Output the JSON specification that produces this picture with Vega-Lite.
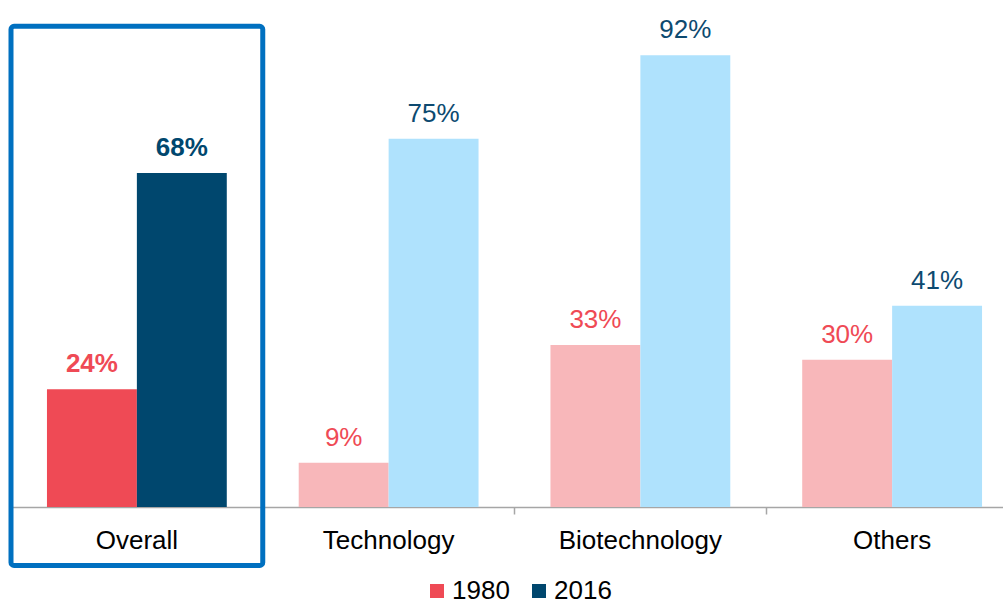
{
  "$schema": "https://vega.github.io/schema/vega-lite/v6.json",
  "autosize": "none",
  "width": 992,
  "height": 491,
  "padding": {"left": 11, "top": 16, "right": 0, "bottom": 96},
  "background": "white",
  "config": {
    "view": {"stroke": null},
    "font": "Liberation Sans"
  },
  "data": {
    "values": [
      {"category": "Overall", "year": "1980", "value": 0.24},
      {"category": "Overall", "year": "2016", "value": 0.68},
      {"category": "Technology", "year": "1980", "value": 0.09},
      {"category": "Technology", "year": "2016", "value": 0.75},
      {"category": "Biotechnology", "year": "1980", "value": 0.33},
      {"category": "Biotechnology", "year": "2016", "value": 0.92},
      {"category": "Others", "year": "1980", "value": 0.30},
      {"category": "Others", "year": "2016", "value": 0.41}
    ]
  },
  "layer": [
    {
      "encoding": {
        "x": {
          "field": "category",
          "type": "nominal",
          "sort": ["Overall", "Technology", "Biotechnology", "Others"],
          "scale": {"range": [0, 1007], "paddingInner": 0, "paddingOuter": 0},
          "axis": {
            "title": null,
            "labelAngle": 0,
            "labelFontSize": 26,
            "labelColor": "#000000",
            "labelPadding": 13,
            "bandPosition": 0,
            "tickSize": 7,
            "tickColor": "#A6A6A6",
            "tickWidth": 1.5,
            "domainColor": "#A6A6A6",
            "domainWidth": 1.5,
            "grid": false
          }
        },
        "xOffset": {
          "field": "year",
          "type": "nominal",
          "sort": ["1980", "2016"],
          "scale": {"paddingInner": 0, "paddingOuter": 0.4}
        },
        "y": {
          "field": "value",
          "type": "quantitative",
          "scale": {"domain": [0, 1]},
          "axis": null
        }
      },
      "layer": [
        {
          "transform": [{"filter": "datum.category === 'Overall'"}],
          "mark": {"type": "bar"},
          "encoding": {
            "color": {
              "field": "year",
              "type": "nominal",
              "scale": {"domain": ["1980", "2016"], "range": ["#EF4A55", "#00476E"]},
              "legend": {
                "title": null,
                "orient": "none",
                "direction": "horizontal",
                "legendX": 413,
                "legendY": 562,
                "symbolType": "square",
                "symbolSize": 196,
                "symbolStrokeWidth": 0,
                "labelFontSize": 26,
                "labelColor": "#000000",
                "labelOffset": 2,
                "columnPadding": 16
              }
            }
          }
        },
        {
          "transform": [{"filter": "datum.category !== 'Overall'"}],
          "mark": {"type": "bar"},
          "encoding": {
            "color": {
              "field": "year",
              "type": "nominal",
              "scale": {"domain": ["1980", "2016"], "range": ["#F8B7BA", "#AFE2FD"]},
              "legend": null
            }
          }
        },
        {
          "transform": [{"filter": "datum.category === 'Overall'"}],
          "mark": {"type": "text", "fontSize": 26, "fontWeight": "bold", "baseline": "alphabetic", "dy": -17},
          "encoding": {
            "text": {"field": "value", "type": "quantitative", "format": ".0%"},
            "color": {
              "field": "year",
              "type": "nominal",
              "scale": {"domain": ["1980", "2016"], "range": ["#EF4A55", "#00476E"]},
              "legend": null
            }
          }
        },
        {
          "transform": [{"filter": "datum.category !== 'Overall'"}],
          "mark": {"type": "text", "fontSize": 26, "baseline": "alphabetic", "dy": -17},
          "encoding": {
            "text": {"field": "value", "type": "quantitative", "format": ".0%"},
            "color": {
              "field": "year",
              "type": "nominal",
              "scale": {"domain": ["1980", "2016"], "range": ["#EF4A55", "#0D4A70"]},
              "legend": null
            }
          }
        }
      ],
      "resolve": {"scale": {"color": "independent"}}
    },
    {
      "data": {"values": [{"category": "Overall"}]},
      "mark": {"type": "rect", "fill": "transparent", "stroke": "#0070C0", "strokeWidth": 5, "cornerRadius": 3},
      "encoding": {
        "x": {"field": "category", "type": "nominal", "sort": ["Overall", "Technology", "Biotechnology", "Others"]},
        "y": {"datum": 0.979, "type": "quantitative"},
        "y2": {"datum": -0.119}
      }
    }
  ],
  "resolve": {"scale": {"color": "independent"}}
}
